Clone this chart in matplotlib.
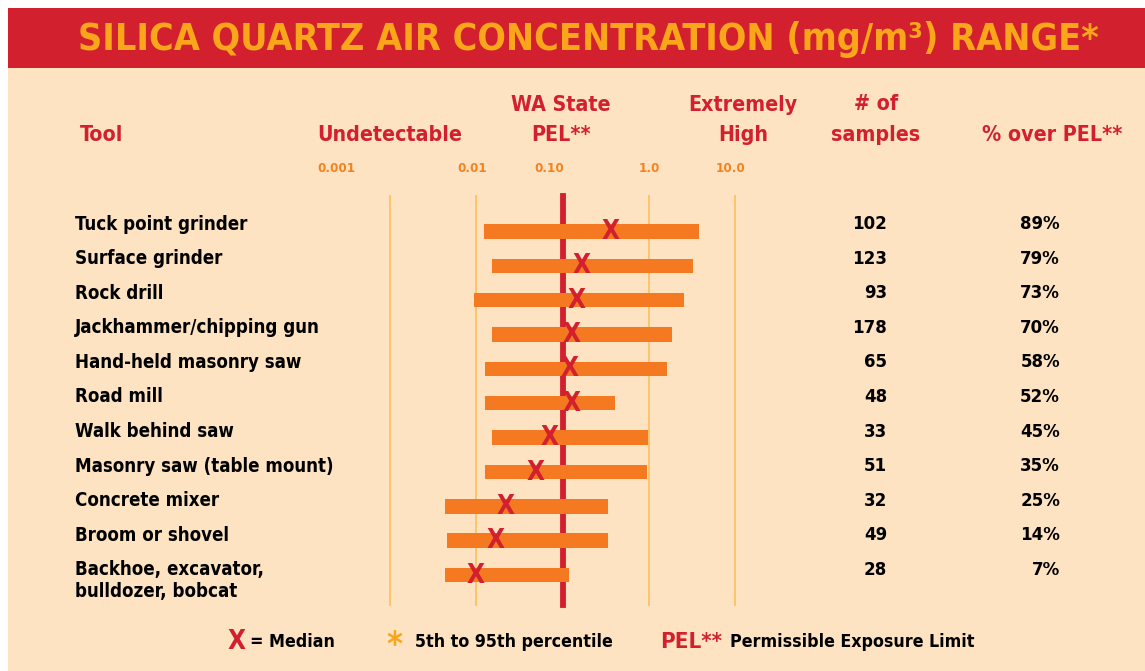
#!/usr/bin/env python3
"""
plot.py

Silica quartz air concentration range per tool (log scale),
with sample counts and % over PEL.
Output: out.png
"""

import matplotlib
matplotlib.use("Agg")
import matplotlib.pyplot as plt
from matplotlib import font_manager
from matplotlib.font_manager import FontProperties
from matplotlib.patches import Rectangle
from matplotlib.textpath import TextPath

# ---- data ---------------------------------------------------------------
tools = [
    "Tuck point grinder",
    "Surface grinder",
    "Rock drill",
    "Jackhammer/chipping gun",
    "Hand-held masonry saw",
    "Road mill",
    "Walk behind saw",
    "Masonry saw (table mount)",
    "Concrete mixer",
    "Broom or shovel",
    "Backhoe, excavator,\nbulldozer, bobcat",
]
p5 = [0.0123, 0.0152, 0.0094, 0.0152, 0.0126, 0.0126, 0.0152, 0.0126, 0.00434, 0.00458, 0.00434]
p95 = [3.83, 3.26, 2.56, 1.86, 1.63, 0.407, 0.98, 0.96, 0.337, 0.337, 0.119]
median = [0.365, 0.168, 0.144, 0.126, 0.122, 0.126, 0.070, 0.049, 0.0221, 0.0169, 0.0097]
samples = [102, 123, 93, 178, 65, 48, 33, 51, 32, 49, 28]
pct_over = [89, 79, 73, 70, 58, 52, 45, 35, 25, 14, 7]

grid_values = [0.001, 0.01, 1.0, 10.0]
pel_value = 0.1
tick_labels = ["0.001", "0.01", "0.10", "1.0", "10.0"]

# ---- style --------------------------------------------------------------
RED = "#d2202f"
ORANGE_BAR = "#f47920"
ORANGE_TXT = "#f58220"
TITLE_TXT = "#f9a61a"
GRID = "#fbc56b"
BG = "#fde3c1"

W, H = 1145, 671


def pick_bold_font():
    # prefer a narrow / condensed bold face, else a plain bold one
    cond = []
    for f in font_manager.fontManager.ttflist:
        w = f.weight if isinstance(f.weight, int) else 400
        if f.weight == "bold":
            w = 700
        if w < 600 or f.style != "normal":
            continue
        tag = (f.name + " " + f.fname).lower()
        if "narrow" in tag or "condensed" in tag or f.stretch in ("condensed", "semi-condensed"):
            if "extra" in tag or "ultra" in tag or "semi" in tag:
                continue
            cond.append(f)
    if cond:
        cond.sort(key=lambda f: abs((f.weight if isinstance(f.weight, int) else 700) - 700))
        return FontProperties(fname=cond[0].fname)
    for fam in ["Roboto", "Liberation Sans", "DejaVu Sans"]:
        try:
            path = font_manager.findfont(FontProperties(family=fam, weight="bold"),
                                         fallback_to_default=False)
            return FontProperties(fname=path)
        except Exception:
            pass
    return FontProperties(weight="bold")


FP = pick_bold_font()


def fit_h(s, target_px, base=20):
    # font size whose glyph ink is target_px tall
    ext = TextPath((0, 0), s, size=base, prop=FP).get_extents()
    return base * target_px / (ext.height * 100 / 72)


def main():
    fig = plt.figure(figsize=(W / 100, H / 100), dpi=100, facecolor="white")
    renderer = fig.canvas.get_renderer()

    bg = fig.add_axes([0, 0, 1, 1], zorder=0)
    bg.set_xlim(0, W)
    bg.set_ylim(H, 0)
    bg.axis("off")

    def fit(s, target_px, base=20):
        t = bg.text(0, 0, s, fontproperties=FP, fontsize=base)
        wpx = t.get_window_extent(renderer).width
        t.remove()
        return base * target_px / wpx

    def put(x, y, s, size, color="black", ha="left", va="center"):
        return bg.text(x, y, s, fontproperties=FP, fontsize=size, color=color,
                       ha=ha, va=va)

    bg.add_patch(Rectangle((8, 68), W - 8, H - 68, color=BG, lw=0))
    bg.add_patch(Rectangle((8, 8), W - 8, 60, color=RED, lw=0))

    title = "SILICA QUARTZ AIR CONCENTRATION (mg/m\u00b3) RANGE*"
    put(588, 39, title, fit(title, 1020), color=TITLE_TXT, ha="center")

    # column headers
    hs = fit("Undetectable", 145)
    put(80, 135, "Tool", hs, RED)
    put(390, 135, "Undetectable", hs, RED, ha="center")
    put(561, 105, "WA State", hs, RED, ha="center")
    put(561, 135, "PEL**", hs, RED, ha="center")
    put(743, 105, "Extremely", hs, RED, ha="center")
    put(743, 135, "High", hs, RED, ha="center")
    put(876, 104, "# of", hs, RED, ha="center")
    put(876, 135, "samples", hs, RED, ha="center")
    put(1052, 135, "% over PEL**", hs, RED, ha="center")

    ts = fit("0.001", 38)
    for xpx, lab in zip([336, 472, 549, 649, 731], tick_labels):
        put(xpx, 168, lab, ts, ORANGE_TXT, ha="center")

    # rows: text columns
    ls = fit("Jackhammer/chipping gun", 237) * 1.04
    ns = fit_h("102", 14)
    y0, dy = 224, 34.6
    for i, (t, n, p) in enumerate(zip(tools, samples, pct_over)):
        y = y0 + i * dy
        for k, line in enumerate(t.split("\n")):
            put(75, y + 22 * k, line, ls)
        put(887, y, str(n), ns, ha="right")
        put(1060, y, f"{p}%", ns, ha="right")

    # legend line
    ly = 642
    gs = fit("Permissible Exposure Limit", 245)
    put(237, ly, "X", fit_h("X", 19), RED, ha="center")
    put(250, ly, "= Median", gs)
    put(394, ly + 4, "*", gs * 1.9, TITLE_TXT, ha="center")
    put(415, ly, "5th to 95th percentile", gs)
    put(660, ly, "PEL**", gs * 1.25, RED)
    put(730, ly, "Permissible Exposure Limit", gs)

    # bar axes on log scale: 0.001 at x=390px, 10 at x=735px
    top_px, bot_px = 196, 605
    ax = fig.add_axes([390 / W, 1 - bot_px / H, 345 / W, (bot_px - top_px) / H], zorder=1)
    ax.set_facecolor("none")
    ax.set_xscale("log")
    ax.set_xlim(0.001, 10)
    row0, rdy = 231.5, 34.35
    ax.set_ylim((bot_px - row0) / rdy, (top_px - row0) / rdy)
    ax.axis("off")

    for g in grid_values:
        ax.axvline(g, color=GRID, lw=1.4, clip_on=False, zorder=1)
    ax.axvline(pel_value, color=RED, lw=4.2, clip_on=False, zorder=2)

    ys = list(range(len(tools)))
    widths = [b - a for a, b in zip(p5, p95)]
    ax.barh(ys, widths, left=p5, height=0.42, color=ORANGE_BAR, zorder=3)
    xs = fit_h("X", 19)
    for yv, m in zip(ys, median):
        # X sits on the bottom edge of its bar
        ax.text(m, yv + 0.22, "X", color=RED, fontproperties=FP, fontsize=xs,
                ha="center", va="baseline", zorder=4)

    fig.savefig("out.png", dpi=100, facecolor="white")
    plt.close(fig)


if __name__ == "__main__":
    main()
